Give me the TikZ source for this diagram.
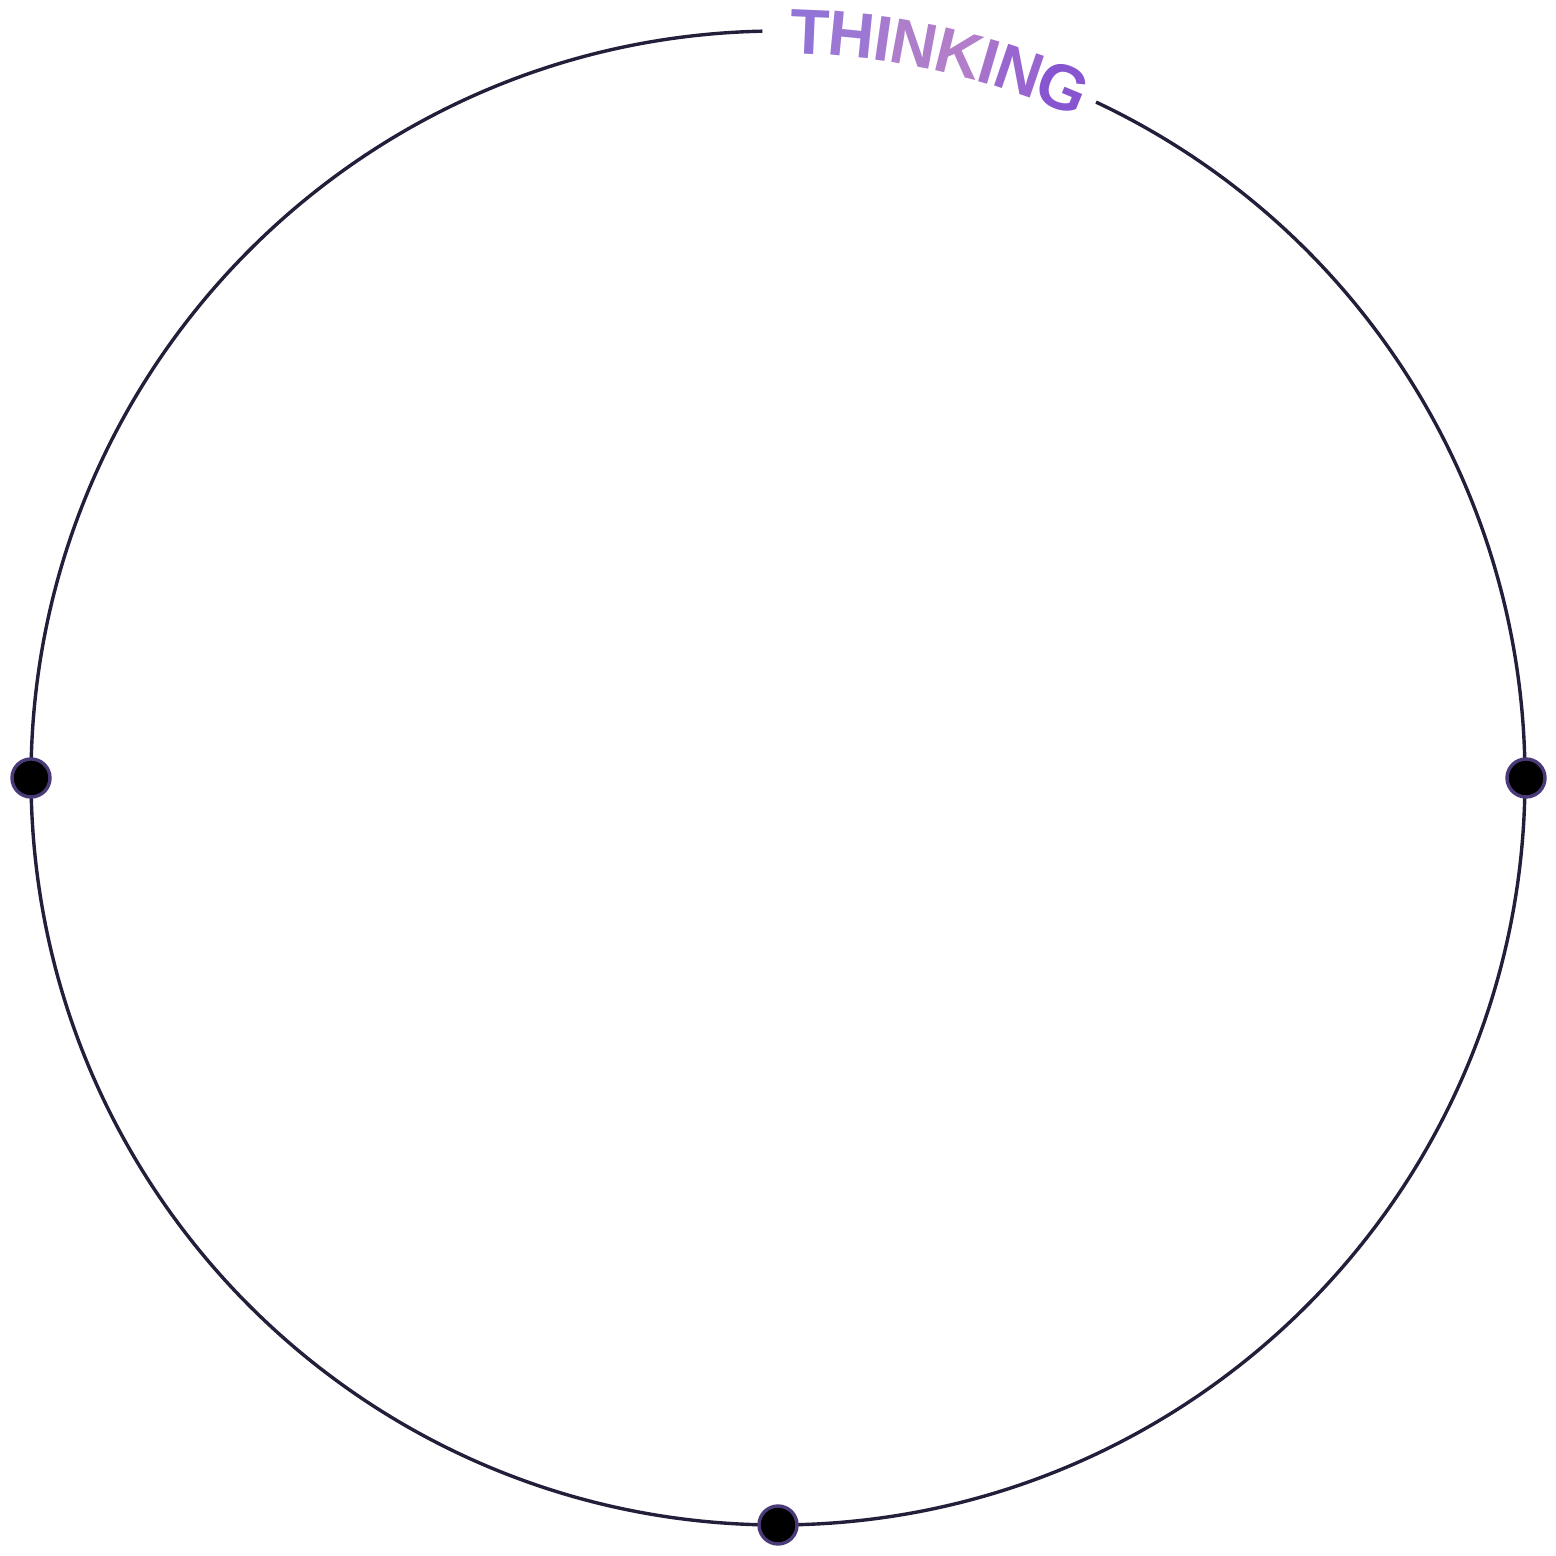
\documentclass[tikz,border=0pt]{standalone}
\usepackage{fontspec}
\setmainfont{Liberation Sans}
\usetikzlibrary{calc}
\definecolor{ringcol}{HTML}{231F3B}
\definecolor{dotedge}{HTML}{4B3A78}
\definecolor{ca}{HTML}{9273D6}
\definecolor{cb}{HTML}{9C77D3}
\definecolor{cc}{HTML}{A67BCF}
\definecolor{cd}{HTML}{AE7ECB}
\definecolor{ce}{HTML}{B27EC9}
\definecolor{cf}{HTML}{A673CC}
\definecolor{cg}{HTML}{9866CE}
\definecolor{ch}{HTML}{8655CF}
\tikzset{
  ring/.style={draw=ringcol, line width=1.7pt},
  dotnode/.style={circle, fill=black, draw=dotedge, line width=1.7pt, minimum size=19pt, inner sep=0pt},
  letter/.style={anchor=base, inner sep=0pt, font=\fontsize{32}{32}\selectfont\bfseries}
}
\begin{document}
\begin{tikzpicture}[x=0.5pt,y=0.5pt]
\useasboundingbox (0,0) rectangle (1556,1556);
\coordinate (c) at (778,778);
\draw[ring] (c) ++(91.2:747) arc[start angle=91.2, end angle=424.8, radius=747];
\foreach \ch/\ang/\col [count=\i] in {T/87.52/ca, H/84.30/cb, I/81.89/cc, N/79.47/cd, K/75.98/ce, I/73.57/cf, N/71.15/cg, G/67.57/ch}{
  \node[letter, text=\col, rotate=\ang-90] (l\i) at ($(c)+(\ang:724.5)$) {\ch};
}
\node[dotnode] (dl) at (31,778) {};
\node[dotnode] (dr) at (1526,778) {};
\node[dotnode] (db) at (778,31) {};
\end{tikzpicture}
\end{document}
